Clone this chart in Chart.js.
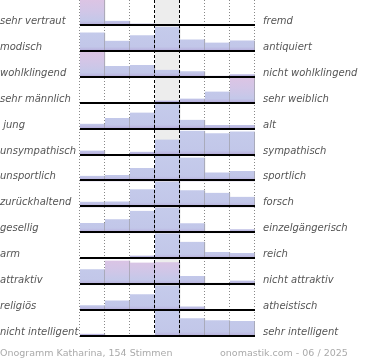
<!DOCTYPE html>
<html>
<head>
<meta charset="utf-8">
<script src="https://cdn.jsdelivr.net/npm/chart.js@4/dist/chart.umd.min.js"></script>
<style>
  html, body { margin: 0; padding: 0; background: #fff; }
</style>
</head>
<body>
<canvas id="onogramm" width="370" height="360"></canvas>
<script>
// Skala -3 .. +3
const kategorien = ['-3', '-2', '-1', '0', '1', '2', '3'];

const linksLabels = ['sehr vertraut', 'modisch', 'wohlklingend', 'sehr männlich', ' jung', 'unsympathisch',
  'unsportlich', 'zurückhaltend', 'gesellig', 'arm', 'attraktiv', 'religiös', 'nicht intelligent'];
const rechtsLabels = ['fremd', 'antiquiert', 'nicht wohlklingend', 'sehr weiblich', 'alt', 'sympathisch',
  'sportlich', 'forsch', 'einzelgängerisch', 'reich', 'nicht attraktiv', 'atheistisch', 'sehr intelligent'];

// relative Balkenhöhe je Zeile (100 = volle Zeile)
const werte = [
  [100, 20, 9, 5, 2, 0, 4],
  [75, 43, 64, 97, 48, 36, 44],
  [100, 45, 49, 31, 25, 8, 14],
  [0, 0, 5, 12, 20, 47, 100],
  [23, 45, 66, 100, 38, 18, 18],
  [19, 3, 15, 62, 96, 86, 93],
  [22, 25, 52, 100, 92, 35, 40],
  [22, 23, 70, 100, 66, 56, 41],
  [40, 54, 87, 100, 39, 10, 16],
  [9, 5, 14, 100, 67, 28, 24],
  [61, 95, 87, 88, 35, 9, 18],
  [22, 41, 65, 100, 18, 0, 6],
  [13, 0, 9, 100, 72, 65, 62]
];

// rosa markierte Balken [zeile, spalte]
const rosa = [[0, 0], [2, 0], [3, 6], [10, 1], [10, 2], [10, 3]];

const fussLinks = 'Onogramm Katharina, 154 Stimmen';
const fussRechts = 'onomastik.com - 06 / 2025';

function balkenFarbe(c) {
  const chart = c.chart;
  const s = chart.scales['y' + c.datasetIndex];
  if (!s || s.bottom === undefined || c.dataIndex === undefined) return '#c3c9ea';
  const istRosa = rosa.some(([r, k]) => r === c.datasetIndex && k === c.dataIndex);
  const g = chart.ctx.createLinearGradient(0, s.top, 0, s.bottom);
  if (istRosa) {
    g.addColorStop(0, '#dcc4e4');
    g.addColorStop(0.4, '#d2c6e7');
    g.addColorStop(0.8, '#c4c8e9');
  } else {
    g.addColorStop(0, '#c5cbeb');
    g.addColorStop(0.8, '#c2c7e9');
  }
  g.addColorStop(0.9, '#bcb8e1');
  g.addColorStop(1, '#a898d0');
  return g;
}

const scales = { x: { type: 'category', display: false, offset: true } };
werte.forEach((_, i) => {
  scales['y' + i] = { type: 'linear', position: 'right', stack: 'zeilen', stackWeight: 1, min: 0, max: 100, display: false };
});

const datasets = werte.map((w, i) => ({
  data: w,
  yAxisID: 'y' + i,
  grouped: false,
  barPercentage: 1,
  categoryPercentage: 1,
  backgroundColor: balkenFarbe,
  borderColor: '#9c9ca4',
  borderWidth: { top: 0, right: 1, bottom: 0, left: 0 },
  borderSkipped: false
}));

const raster = {
  id: 'raster',
  beforeDatasetsDraw(chart) {
    const { ctx, chartArea: a, scales: { x } } = chart;
    const w = x.getPixelForValue(1) - x.getPixelForValue(0);
    ctx.save();
    // mittlere Spalte
    const mx = x.getPixelForValue(3);
    ctx.fillStyle = '#ededed';
    ctx.fillRect(mx - w / 2, a.top, w, a.bottom - a.top);
    // gepunktete Linien
    ctx.strokeStyle = '#888';
    ctx.lineWidth = 1;
    ctx.setLineDash([1, 2]);
    for (let i = 0; i <= kategorien.length; i++) {
      if (i === 3 || i === 4) continue;
      const px = Math.round(x.getPixelForValue(0) - w / 2 + i * w) - 0.5;
      ctx.beginPath();
      ctx.moveTo(px, a.top);
      ctx.lineTo(px, a.bottom);
      ctx.stroke();
    }
    ctx.restore();
  },
  afterDatasetsDraw(chart) {
    const { ctx, chartArea: a, scales: { x } } = chart;
    const w = x.getPixelForValue(1) - x.getPixelForValue(0);
    ctx.save();
    // gestrichelte Linien um die Mitte
    ctx.strokeStyle = '#000';
    ctx.lineWidth = 1;
    ctx.setLineDash([3, 2]);
    [3, 4].forEach(i => {
      const px = Math.round(x.getPixelForValue(0) - w / 2 + i * w) - 0.5;
      ctx.beginPath();
      ctx.moveTo(px, a.top);
      ctx.lineTo(px, a.bottom);
      ctx.stroke();
    });
    // Grundlinien
    ctx.setLineDash([]);
    ctx.lineWidth = 2;
    werte.forEach((_, i) => {
      const y = Math.round(chart.scales['y' + i].getPixelForValue(0)) - 1;
      ctx.beginPath();
      ctx.moveTo(a.left, y);
      ctx.lineTo(a.right, y);
      ctx.stroke();
    });
    ctx.restore();
  },
  afterDraw(chart) {
    const { ctx, chartArea: a } = chart;
    ctx.save();
    ctx.font = 'italic 10px "DejaVu Sans"';
    ctx.fillStyle = '#555';
    ctx.textBaseline = 'alphabetic';
    werte.forEach((_, i) => {
      const y = chart.scales['y' + i].getPixelForValue(0) - 2;
      ctx.textAlign = 'left';
      ctx.fillText(linksLabels[i], 0, y);
      ctx.fillText(rechtsLabels[i], a.right + 8, y);
    });
    ctx.font = '9.5px "DejaVu Sans"';
    ctx.fillStyle = '#aaa';
    ctx.fillText(fussLinks, 0, 356);
    ctx.fillText(fussRechts, 220, 356);
    ctx.restore();
  }
};

new Chart(document.getElementById('onogramm'), {
  type: 'bar',
  data: { labels: kategorien, datasets: datasets },
  options: {
    responsive: false,
    animation: false,
    layout: { padding: { left: 80, right: 115, top: 0, bottom: 23 } },
    plugins: { legend: { display: false }, tooltip: { enabled: false } },
    scales: scales
  },
  plugins: [raster]
});
</script>
</body>
</html>
